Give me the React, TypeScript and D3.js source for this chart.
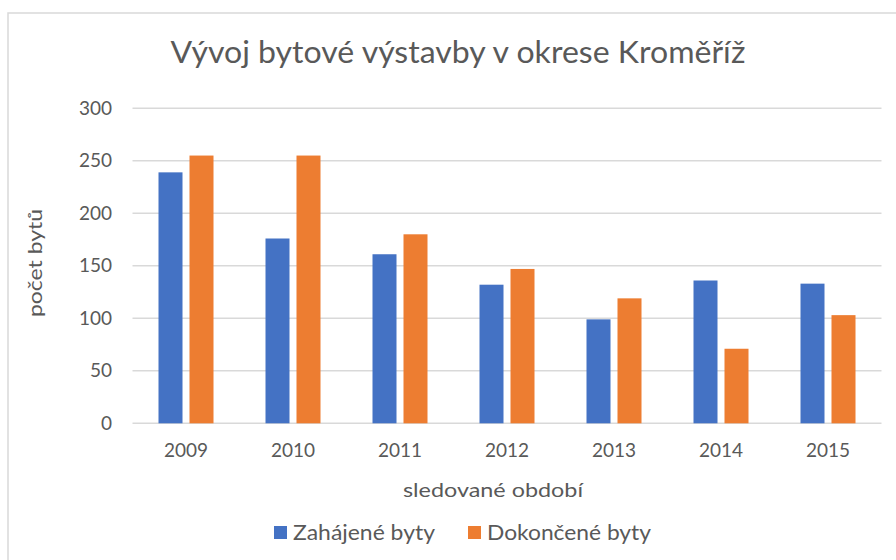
import React from "react";
import * as d3 from "d3";

const years = ["2009", "2010", "2011", "2012", "2013", "2014", "2015"];
const seriesNames = ["Zahájené byty", "Dokončené byty"];
const zahajene = [239, 176, 161, 132, 99, 136, 133];
const dokoncene = [255, 255, 180, 147, 119, 71, 103];
const yTicks = [0, 50, 100, 150, 200, 250, 300];
const colors = ["#4472C4", "#ED7D31"];

const W = 896;
const H = 560;
const FONT = "Lato, 'Liberation Sans', sans-serif";
const TXT = "#595959";

export default function App() {
  const x = d3.scaleBand<string>().domain(years).range([132.5, 881.5]).paddingInner(0).paddingOuter(0);
  const inner = d3
    .scaleBand<string>()
    .domain(seriesNames)
    .range([26, 81])
    .paddingInner(7 / 31)
    .paddingOuter(0);
  const y = d3.scaleLinear().domain([0, 300]).range([423.3, 108.3]);
  const data = [zahajene, dokoncene];

  return (
    <svg
      width={W}
      height={H}
      style={{ position: "absolute", left: 0, top: 0, display: "block", background: "#fff" }}
      fontFamily={FONT}
    >
      <rect x={0} y={0} width={W} height={H} fill="#fff" />
      <rect x={8} y={13} width={W + 20} height={H + 20} fill="#fff" stroke="#d9d9d9" strokeWidth={1.5} />
      <text
        x={458}
        y={63}
        textAnchor="middle"
        fontSize={30}
        fill={TXT}
        textLength={575}
        lengthAdjust="spacingAndGlyphs"
      >
        Vývoj bytové výstavby v okrese Kroměříž
      </text>
      {yTicks.map((t) => (
        <g key={t}>
          <line x1={132.5} x2={881.5} y1={y(t)} y2={y(t)} stroke="#d9d9d9" strokeWidth={1.5} />
          <text x={112} y={y(t)} dy="0.35em" textAnchor="end" fontSize={19} fill={TXT}>
            {t}
          </text>
        </g>
      ))}
      {seriesNames.map((s, si) => (
        <g key={s}>
          {years.map((yr, i) => (
            <rect
              key={yr}
              x={(x(yr) ?? 0) + (inner(s) ?? 0)}
              width={inner.bandwidth()}
              y={y(data[si][i])}
              height={y(0) - y(data[si][i])}
              fill={colors[si]}
            />
          ))}
        </g>
      ))}
      {years.map((yr) => (
        <text key={yr} x={(x(yr) ?? 0) + x.bandwidth() / 2} y={457} textAnchor="middle" fontSize={19} fill={TXT}>
          {yr}
        </text>
      ))}
      <text x={493} y={497} textAnchor="middle" fontSize={20} fill={TXT} textLength={180} lengthAdjust="spacingAndGlyphs">
        sledované období
      </text>
      <text
        transform="translate(42,263) rotate(-90)"
        textAnchor="middle"
        fontSize={20}
        fill={TXT}
        textLength={108}
        lengthAdjust="spacingAndGlyphs"
      >
        počet bytů
      </text>
      {seriesNames.map((s, si) => {
        const sx = si === 0 ? 274 : 468;
        const tl = si === 0 ? 142 : 164;
        return (
          <g key={s}>
            <rect x={sx} y={526} width={13} height={13} fill={colors[si]} />
            <text x={sx + 19} y={540} fontSize={21} fill={TXT} textLength={tl} lengthAdjust="spacingAndGlyphs">
              {s}
            </text>
          </g>
        );
      })}
    </svg>
  );
}
